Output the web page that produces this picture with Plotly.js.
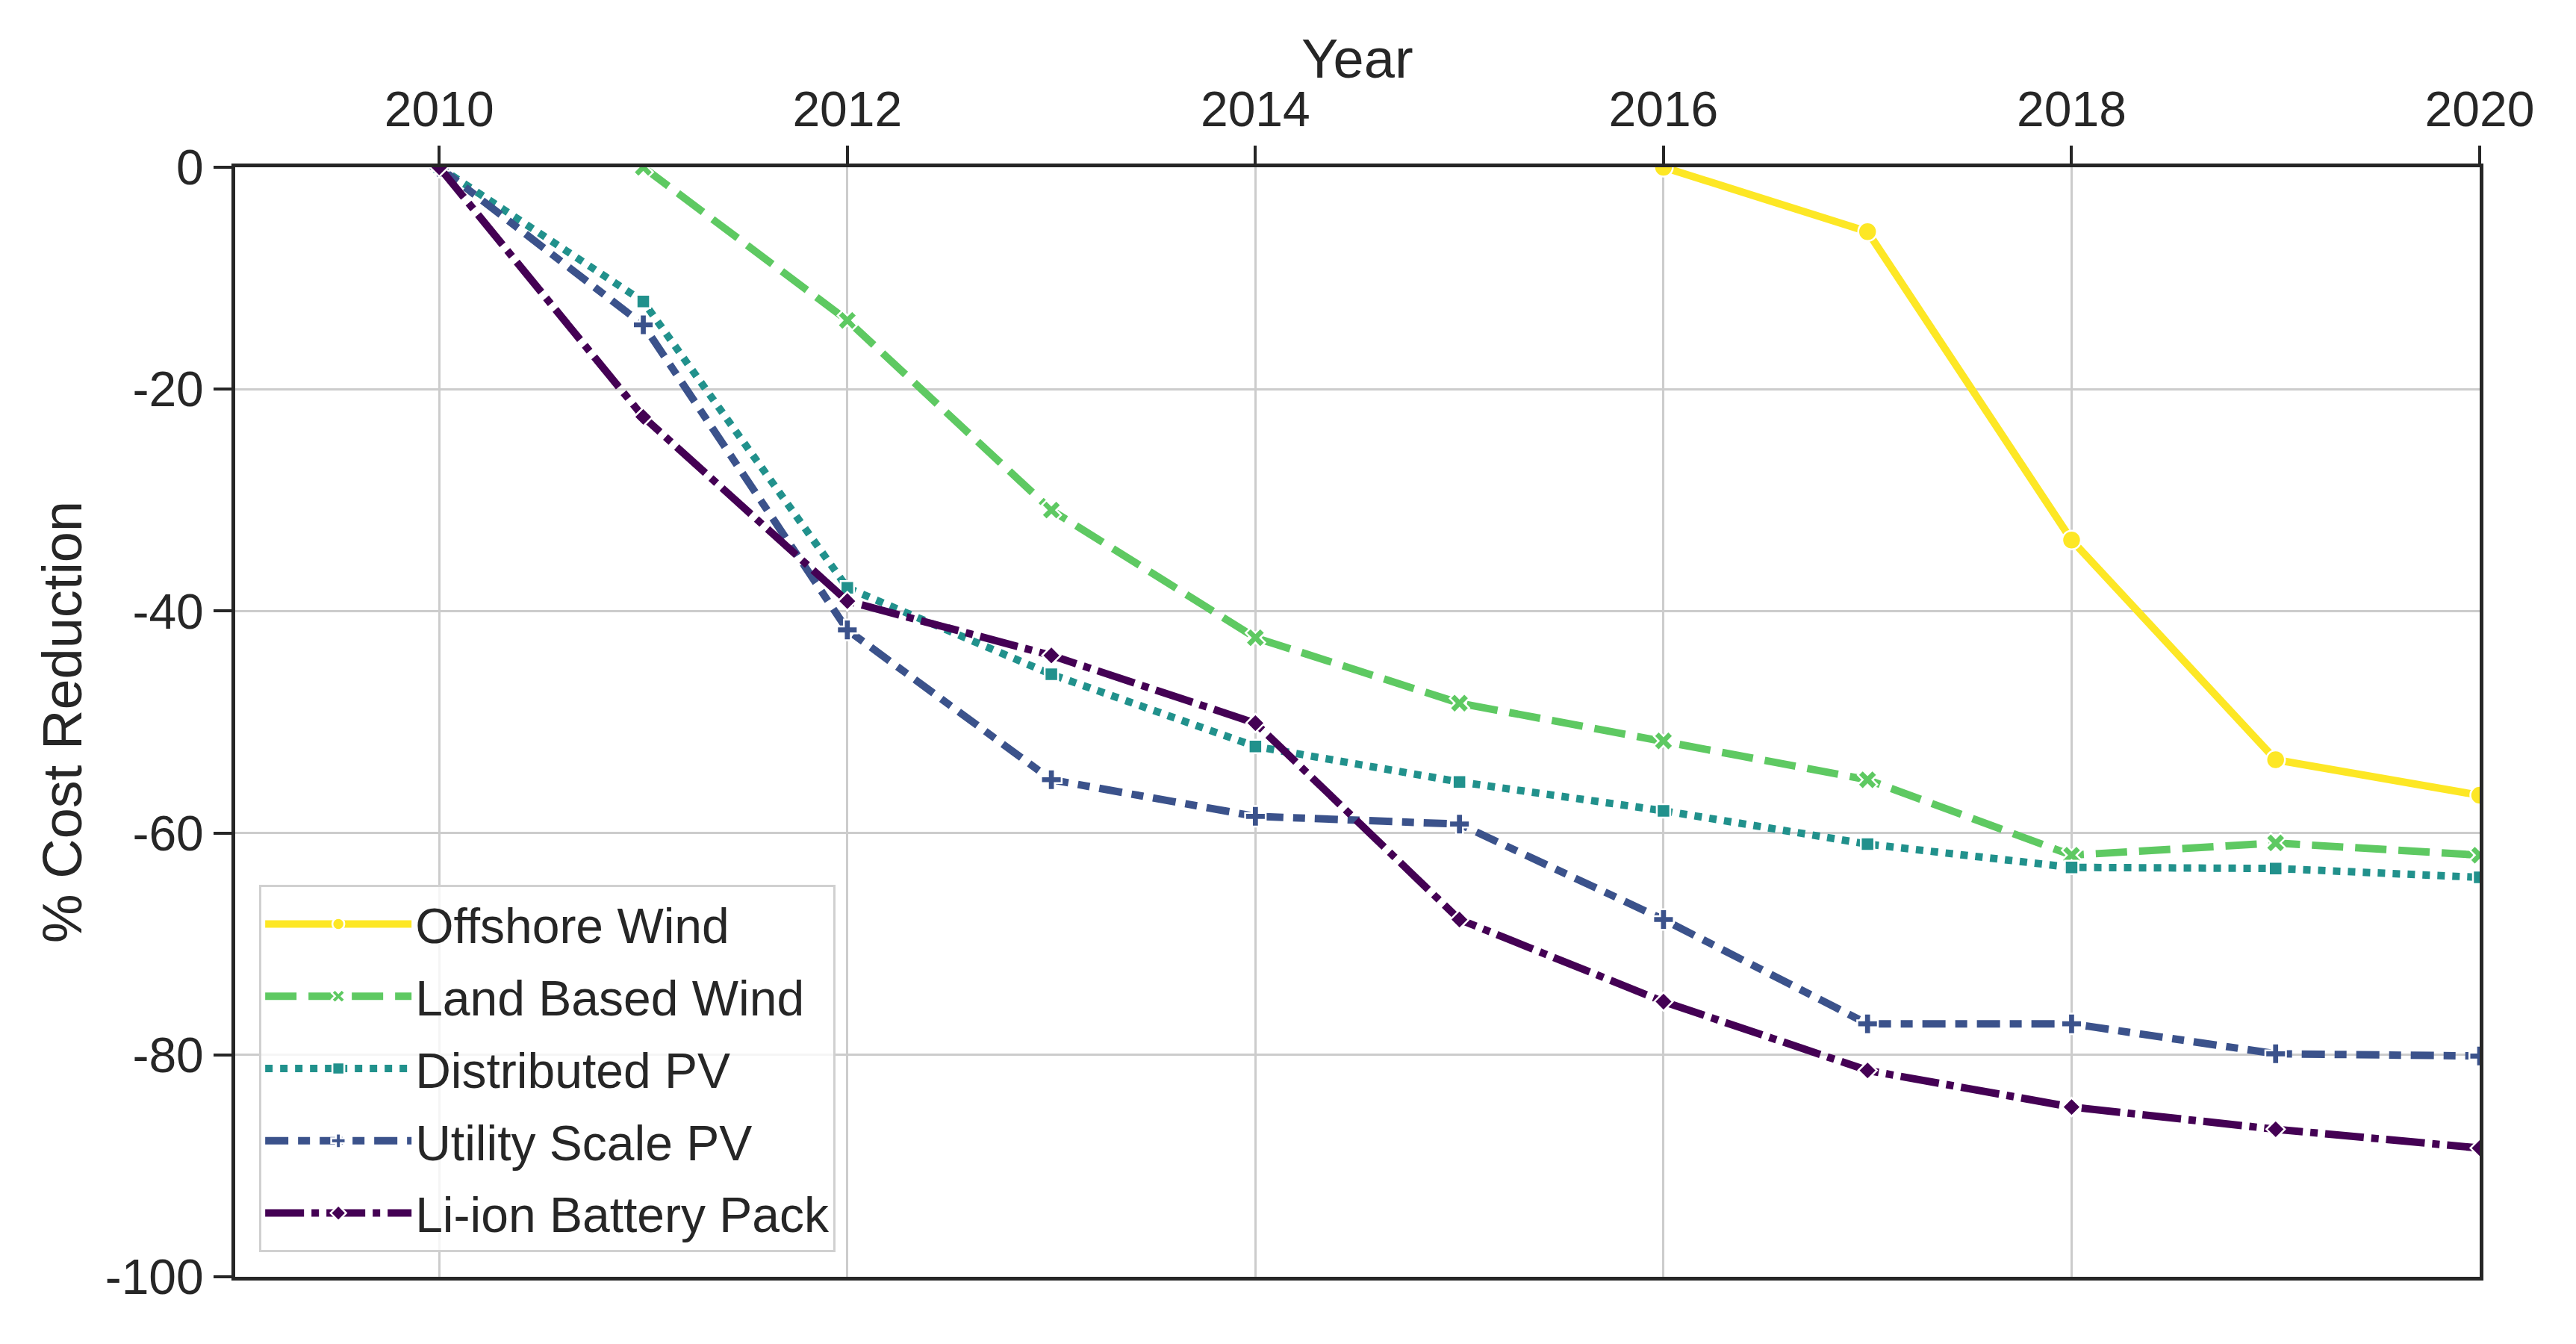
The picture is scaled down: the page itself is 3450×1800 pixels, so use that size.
<!DOCTYPE html>
<html>
<head>
<meta charset="utf-8">
<script src="https://cdn.plot.ly/plotly-3.0.1.min.js"></script>
<style>html,body{margin:0;padding:0;background:#fff;}#chart{width:3450px;height:1800px;}</style>
</head>
<body>
<div id="chart"></div>
<script>
const years = [2010, 2011, 2012, 2013, 2014, 2015, 2016, 2017, 2018, 2019, 2020];
const seriesNames = ["Offshore Wind", "Land Based Wind", "Distributed PV", "Utility Scale PV", "Li-ion Battery Pack"];
const offshoreWind = [null, null, null, null, null, null, 0, -5.8, -33.6, -53.4, -56.6];
const landBasedWind = [null, 0, -13.8, -30.9, -42.4, -48.3, -51.7, -55.2, -62.0, -60.9, -62.0];
const distributedPV = [0, -12.1, -37.9, -45.7, -52.2, -55.4, -58.0, -61.0, -63.1, -63.2, -64.0];
const utilityScalePV = [0, -14.2, -41.7, -55.2, -58.5, -59.2, -67.8, -77.2, -77.2, -79.9, -80.1];
const liIonBattery = [0, -22.5, -39.1, -44.0, -50.1, -67.8, -75.2, -81.4, -84.7, -86.7, -88.4];
const xTickVals = [2010, 2012, 2014, 2016, 2018, 2020];
const yTickVals = [0, -20, -40, -60, -80, -100];
const yTickText = ["0", "-20", "-40", "-60", "-80", "-100"];

const colors = ["#fde725", "#5ec962", "#21918c", "#3b528b", "#440154"];
const dashes = ["solid", "42px,16px", "10px,10px", "31px,13px,16px,13px", "52px,10px,10px,10px"];
const symbols = ["circle", "x", "square", "cross", "diamond"];
const sizes = [25, 23, 18, 23, 19];
const values = [offshoreWind, landBasedWind, distributedPV, utilityScalePV, liIonBattery];

const font = "Liberation Sans, Arial, Helvetica, sans-serif";
const ink = "#262626";

const traces = values.map((v, i) => ({
  type: "scatter",
  mode: "lines+markers",
  name: seriesNames[i],
  legendgroup: "g" + i,
  x: years,
  y: v,
  line: {color: colors[i], width: 10, dash: dashes[i]},
  marker: {symbol: symbols[i], size: sizes[i], color: colors[i], line: {color: "#ffffff", width: 2.5}},
  connectgaps: false
}));

const layout = {
  width: 3450,
  height: 1800,
  margin: {l: 315, r: 129, t: 224, b: 90, pad: 0},
  paper_bgcolor: "#ffffff",
  plot_bgcolor: "#ffffff",
  font: {family: font, size: 66, color: ink},
  showlegend: true,
  legend: {
    x: 0.0107, y: 0.0222, xanchor: "left", yanchor: "bottom",
    bgcolor: "rgba(255,255,255,0.8)", bordercolor: "#d0d0d0", borderwidth: 3,
    font: {family: font, size: 66, color: ink},
    itemwidth: 196, tracegroupgap: 8
  },
  xaxis: {
    side: "top",
    range: [2009, 2020],
    tickvals: xTickVals,
    ticktext: xTickVals.map(String),
    ticks: "outside", ticklen: 24, tickwidth: 4, tickcolor: ink,
    tickfont: {family: font, size: 66, color: ink},
    showline: true, linecolor: ink, linewidth: 5, mirror: true,
    showgrid: true, gridcolor: "#cccccc", gridwidth: 3,
    zeroline: false
  },
  yaxis: {
    range: [-100, 0],
    tickvals: yTickVals,
    ticktext: yTickText,
    ticks: "outside", ticklen: 24, tickwidth: 4, tickcolor: ink,
    tickfont: {family: font, size: 66, color: ink},
    showline: true, linecolor: ink, linewidth: 5, mirror: true,
    showgrid: true, gridcolor: "#cccccc", gridwidth: 3,
    zeroline: false,
    title: {text: "% Cost Reduction", font: {family: font, size: 74, color: ink}, standoff: 8}
  },
  annotations: [{
    text: "Year", xref: "paper", yref: "paper", x: 0.5, y: 1.0976,
    xanchor: "center", yanchor: "middle", showarrow: false,
    font: {family: font, size: 74, color: ink}
  }]
};

Plotly.newPlot("chart", traces, layout, {staticPlot: true, displayModeBar: false});
</script>
</body>
</html>
